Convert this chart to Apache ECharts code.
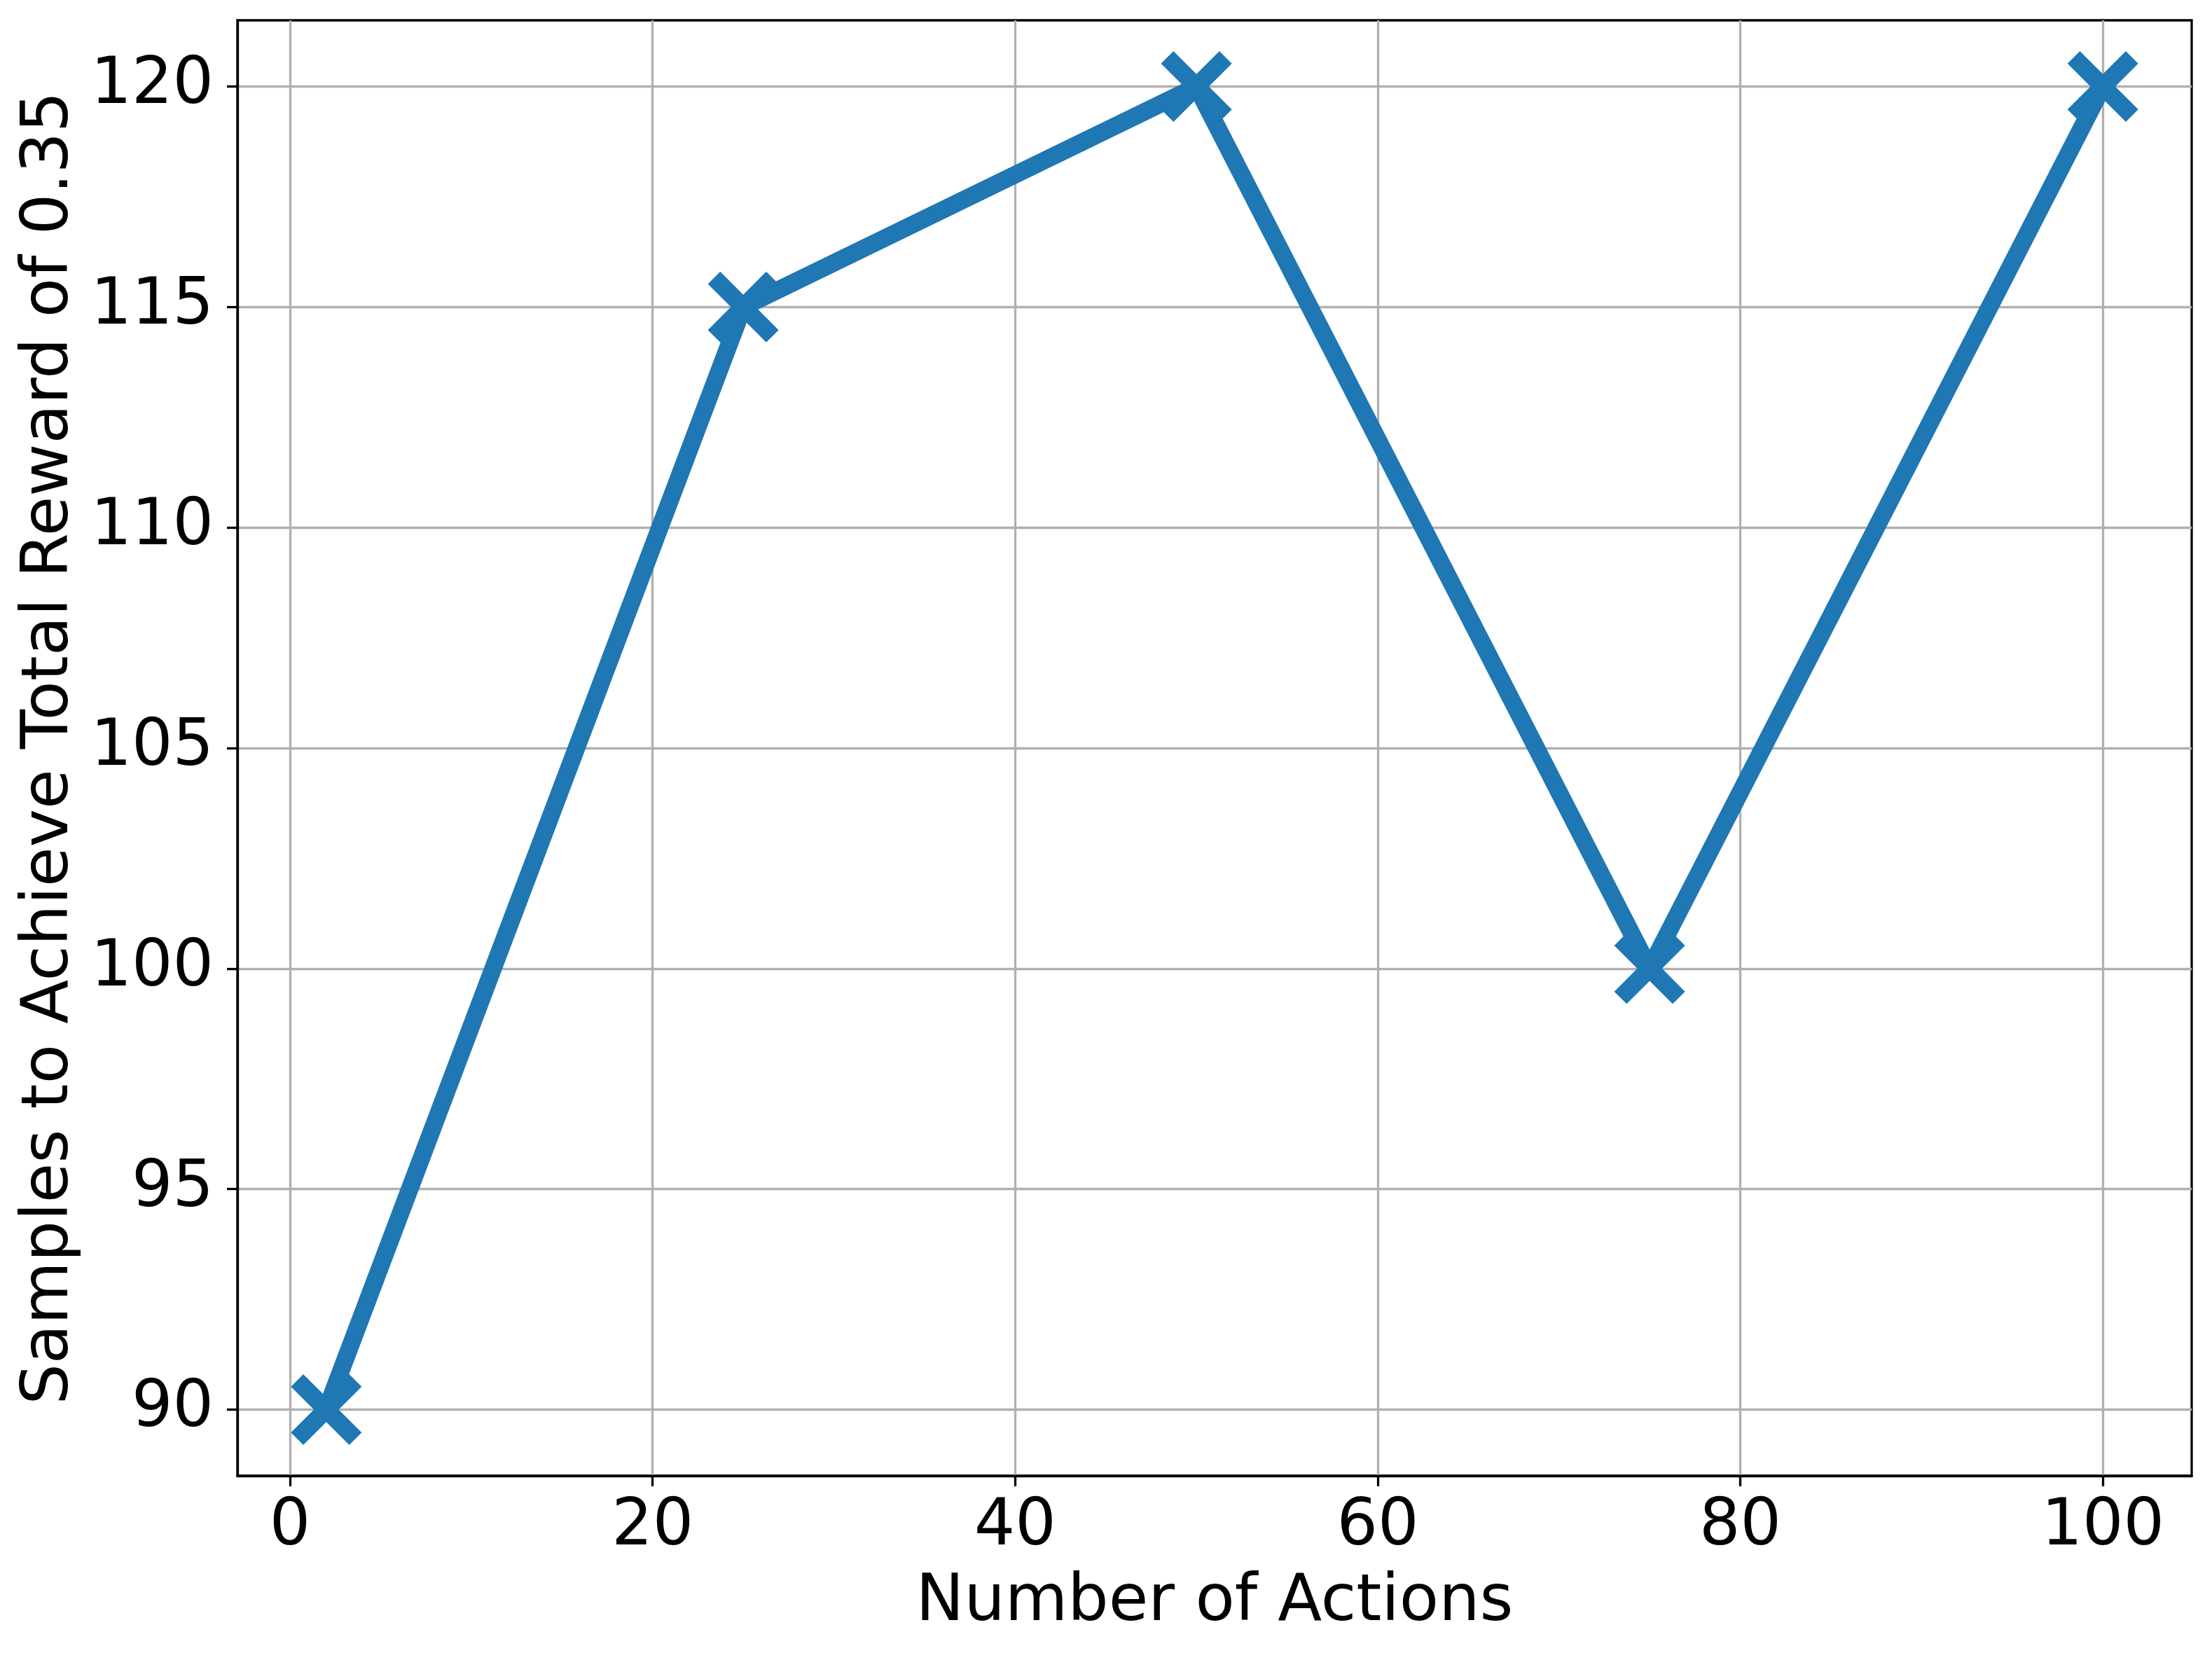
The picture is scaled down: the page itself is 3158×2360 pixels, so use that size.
<!DOCTYPE html>
<html>
<head>
<meta charset="utf-8">
<script src="https://cdn.jsdelivr.net/npm/echarts@6/dist/echarts.min.js"></script>
<style>
  html, body { margin: 0; padding: 0; background: #fff; }
  #chart { width: 3158px; height: 2360px; }
</style>
</head>
<body>
<div id="chart"></div>
<script>
// data
const numActions = [2, 25, 50, 75, 100];
const samplesNeeded = [90, 115, 120, 100, 120];
const xTicks = [0, 20, 40, 60, 80, 100];
const yTicks = [90, 95, 100, 105, 110, 115, 120];

const BLUE = "#1f77b4";
const FONT = "DejaVu Sans";
// matplotlib style filled 'x' with butt ends
const crossPath = "path://M0,17.5L17.5,0L50,32.5L82.5,0L100,17.5L67.5,50L100,82.5L82.5,100L50,67.5L17.5,100L0,82.5L32.5,50Z";

let myChart = echarts.init(document.getElementById("chart"), null, { renderer: "canvas" });

myChart.setOption({
  animation: false,
  backgroundColor: "#fff",
  grid: {
    left: 339,
    top: 29,
    right: 29,
    bottom: 253,
    show: true,
    borderColor: "#000",
    borderWidth: 3.3,
    backgroundColor: "transparent",
  },
  xAxis: {
    type: "value",
    min: -2.9,
    max: 104.9,
    name: "Number of Actions",
    nameLocation: "middle",
    nameGap: 136,
    nameTextStyle: { fontFamily: FONT, fontSize: 92, color: "#000" },
    axisLine: { show: true, onZero: false, lineStyle: { color: "#000", width: 3.3 } },
    axisTick: { show: true, length: 15, customValues: xTicks, lineStyle: { color: "#000", width: 3.3 } },
    axisLabel: {
      customValues: xTicks,
      margin: 28,
      fontFamily: FONT,
      fontSize: 92,
      color: "#000",
    },
    splitLine: { show: true, lineStyle: { color: "#b0b0b0", width: 3.3 } },
  },
  yAxis: {
    type: "value",
    min: 88.5,
    max: 121.5,
    name: "Samples to Achieve Total Reward of 0.35",
    nameLocation: "middle",
    nameGap: 221,
    nameTextStyle: { fontFamily: FONT, fontSize: 92, color: "#000" },
    axisLine: { show: true, onZero: false, lineStyle: { color: "#000", width: 3.3 } },
    axisTick: { show: true, length: 15, customValues: yTicks, lineStyle: { color: "#000", width: 3.3 } },
    axisLabel: {
      customValues: yTicks,
      margin: 34,
      fontFamily: FONT,
      fontSize: 92,
      color: "#000",
    },
    splitLine: { show: true, lineStyle: { color: "#b0b0b0", width: 3.3 } },
  },
  series: [
    {
      type: "line",
      data: numActions.map((x, i) => [x, samplesNeeded[i]]),
      lineStyle: { color: BLUE, width: 25 },
      itemStyle: { color: BLUE },
      symbol: crossPath,
      symbolSize: 101,
      showSymbol: true,
      z: 3,
    },
  ],
});

window.addEventListener("resize", function () {
  myChart.resize();
});
</script>
</body>
</html>
